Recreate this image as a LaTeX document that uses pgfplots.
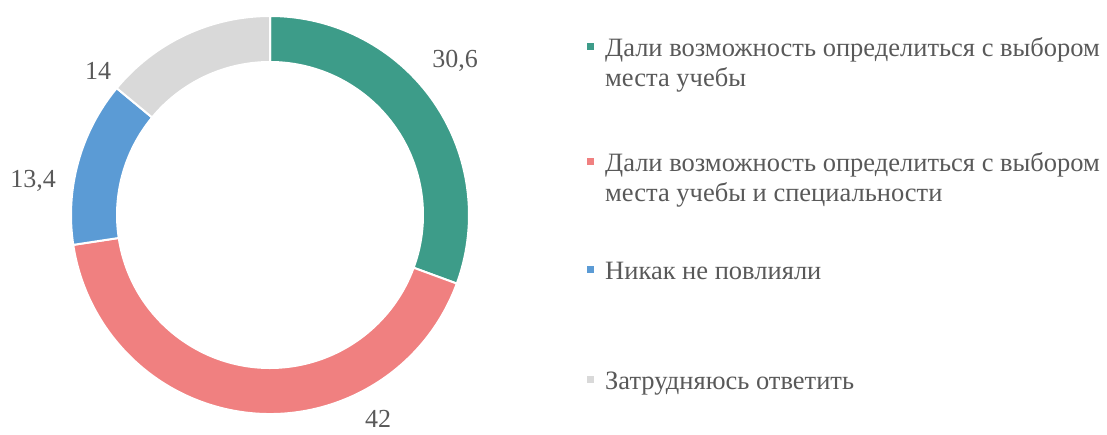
\documentclass[border=0pt]{standalone}
\usepackage{pgfplots}
\pgfplotsset{compat=1.18}
\usepackage{pgfplotstable}
\usepackage{fontspec}
\setmainfont{Liberation Serif}
\definecolor{cgreen}{HTML}{3D9C89}
\definecolor{cred}{HTML}{F08080}
\definecolor{cblue}{HTML}{5B9BD5}
\definecolor{cgrey}{HTML}{D9D9D9}
\definecolor{ctext}{HTML}{595959}

\pgfplotstableread{
val
30.6
42
13.4
14
}\datatable
\pgfplotstablegetelem{0}{val}\of\datatable \let\vA\pgfplotsretval
\pgfplotstablegetelem{1}{val}\of\datatable \let\vB\pgfplotsretval
\pgfplotstablegetelem{2}{val}\of\datatable \let\vC\pgfplotsretval
\pgfplotstablegetelem{3}{val}\of\datatable \let\vD\pgfplotsretval
\pgfmathsetmacro\aA{90}
\pgfmathsetmacro\aB{\aA-3.6*\vA}
\pgfmathsetmacro\aC{\aB-3.6*\vB}
\pgfmathsetmacro\aD{\aC-3.6*\vC}
\pgfmathsetmacro\aE{\aD-3.6*\vD}

\def\cx{270}\def\cy{220}\def\Ro{199}\def\Ri{153}
\newcommand\sector[3]{%
\filldraw[fill=#3, draw=white, line width=2pt, line join=miter]
 (axis cs:{\cx+\Ro*cos(#1)},{\cy+\Ro*sin(#1)}) arc[start angle=#1, end angle=#2, radius=\Ro]
 -- (axis cs:{\cx+\Ri*cos(#2)},{\cy+\Ri*sin(#2)}) arc[start angle=#2, end angle=#1, radius=\Ri] -- cycle;}
\newcommand\legsq[2]{\fill[#1] (axis cs:587,#2+7) rectangle (axis cs:594,#2+14);}

\begin{document}
\begin{tikzpicture}
\useasboundingbox (0,0) rectangle (1107pt,435pt);
\begin{axis}[
  scale only axis, width=1107pt, height=435pt,
  xmin=0, xmax=1107, ymin=0, ymax=435,
  hide axis, clip=false,
]
\sector{\aA}{\aB}{cgreen}
\sector{\aB}{\aC}{cred}
\sector{\aC}{\aD}{cblue}
\sector{\aD}{\aE}{cgrey}
% data labels
\begin{scope}[every node/.style={font=\fontsize{26}{30}\selectfont, text=ctext, anchor=base, inner sep=0pt}]
\node at (axis cs:455,367) {30,6};
\node at (axis cs:378,7) {42};
\node at (axis cs:33,247) {13,4};
\node at (axis cs:98,355) {14};
\end{scope}
% legend
\legsq{cgreen}{378}
\legsq{cred}{263}
\legsq{cblue}{155}
\legsq{cgrey}{45}
\begin{scope}[every node/.style={font=\fontsize{26.5}{30}\selectfont, text=ctext, anchor=base west, inner sep=0pt}]
\node at (axis cs:605,378) {Дали возможность определиться с выбором};
\node at (axis cs:605,348) {места учебы};
\node at (axis cs:605,263) {Дали возможность определиться с выбором};
\node at (axis cs:605,233) {места учебы и специальности};
\node at (axis cs:605,155) {Никак не повлияли};
\node at (axis cs:605,45) {Затрудняюсь ответить};
\end{scope}
\end{axis}
\end{tikzpicture}
\end{document}
